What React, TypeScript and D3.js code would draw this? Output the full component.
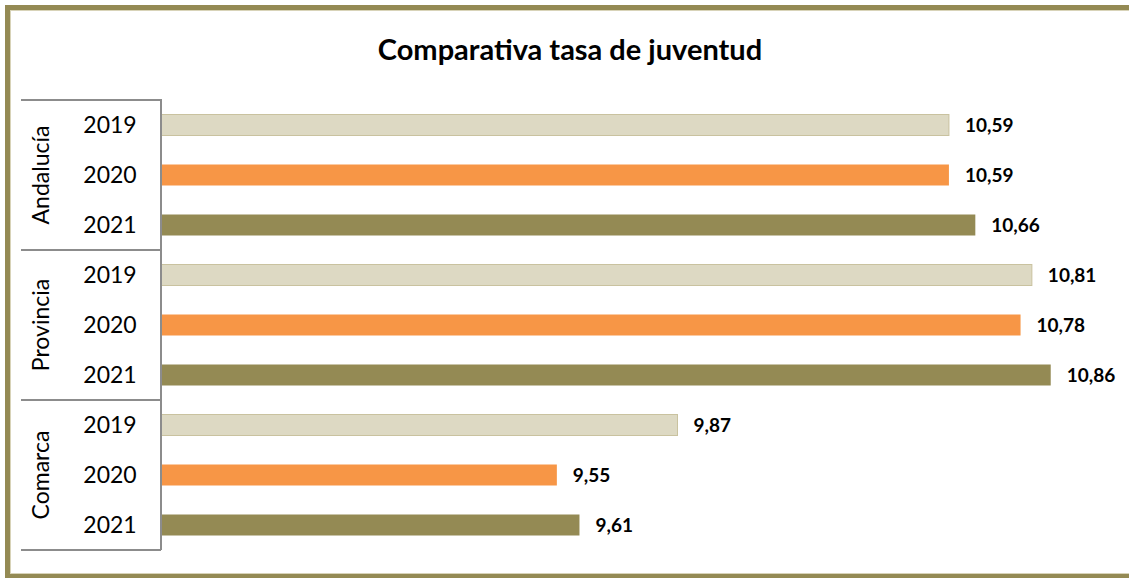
import React from 'react';
import * as d3 from 'd3';

const groups = ['Andalucía', 'Provincia', 'Comarca'];
const years = ['2019', '2020', '2021'];
const values = [
  [10.59, 10.59, 10.66],
  [10.81, 10.78, 10.86],
  [9.87, 9.55, 9.61],
];
const yearColors = ['#ddd9c3', '#f79646', '#948a54'];
const yearStroke = ['#c9c29f', 'none', 'none'];

const W = 1129;
const H = 578;
const font = 'Lato, "Open Sans", sans-serif';

const App = () => {
  const rows = groups.flatMap((g, gi) =>
    years.map((yr, yi) => ({ key: `${g}-${yr}`, group: g, year: yr, yi, value: values[gi][yi] }))
  );

  const x = d3.scaleLinear().domain([8.5, 11]).range([161, 1103.5]);
  const y = d3.scaleBand().domain(rows.map(d => d.key)).range([100, 550]).paddingInner(0.58).paddingOuter(0.29);
  const step = y.step();
  const groupTop = (gi: number) => 100 + gi * 3 * step;
  const fmt = (v: number) => d3.format('.2f')(v).replace('.', ',');

  return (
    <svg width={W} height={H} style={{ position: 'absolute', left: 0, top: 0, background: '#fff' }}>
      <rect x={7.5} y={7.5} width={W + 10} height={569} fill="#fff" stroke="#948a54" strokeWidth={5} />
      <rect x={10.5} y={10.5} width={W + 10} height={563} fill="none" stroke="#d8d3b8" strokeWidth={1} />
      <text x={570} y={60} textAnchor="middle" fontFamily={font} fontWeight="bold" fontSize={29} fill="#000">
        Comparativa tasa de juventud
      </text>

      {rows.map(d => (
        <rect
          key={d.key}
          x={x(8.5)}
          y={y(d.key)}
          width={x(d.value) - x(8.5)}
          height={y.bandwidth()}
          fill={yearColors[d.yi]}
          stroke={yearStroke[d.yi]}
          strokeWidth={1}
        />
      ))}
      {rows.map(d => (
        <text
          key={'l' + d.key}
          x={x(d.value) + 16}
          y={(y(d.key) as number) + y.bandwidth() / 2 + 6.5}
          fontFamily={font}
          fontWeight="bold"
          fontSize={19}
          fill="#000"
        >
          {fmt(d.value)}
        </text>
      ))}

      {/* category axis */}
      <g stroke="#8c8c8c" strokeWidth={2}>
        <line x1={161} x2={161} y1={99} y2={550} />
        {d3.range(groups.length + 1).map(i => (
          <line key={i} x1={21} x2={161} y1={groupTop(i)} y2={groupTop(i)} />
        ))}
      </g>
      {rows.map(d => (
        <text
          key={'y' + d.key}
          x={110}
          y={(y(d.key) as number) + y.bandwidth() / 2 + 8}
          textAnchor="middle"
          fontFamily={font}
          fontSize={23}
          fill="#000"
        >
          {d.year}
        </text>
      ))}
      {groups.map((g, gi) => (
        <text
          key={g}
          transform={`translate(49,${groupTop(gi) + 1.5 * step}) rotate(-90)`}
          textAnchor="middle"
          fontFamily={font}
          fontSize={23}
          fill="#000"
        >
          {g}
        </text>
      ))}
    </svg>
  );
};

export default App;
